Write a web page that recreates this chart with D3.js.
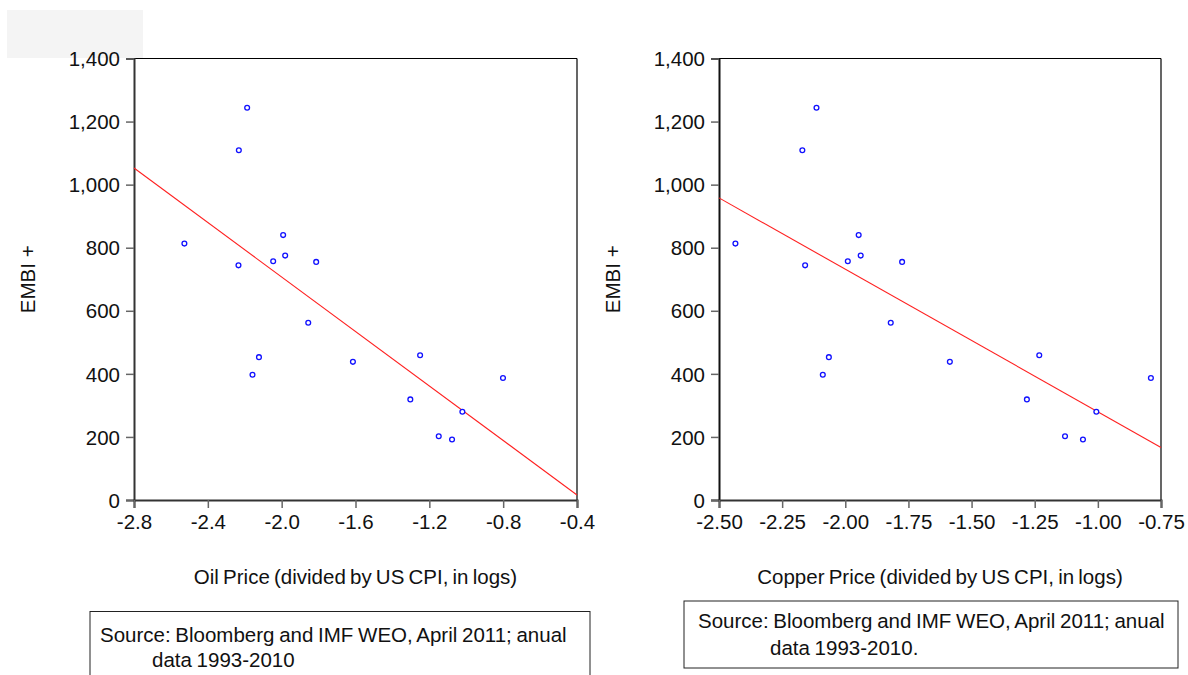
<!DOCTYPE html>
<html>
<head>
<meta charset="utf-8">
<script src="https://cdn.jsdelivr.net/npm/d3@7"></script>
<style>
  html, body { margin: 0; padding: 0; background: #fff; }
  svg { display: block; font-family: "Liberation Sans", Arial, sans-serif; }
</style>
</head>
<body>
<svg id="chart" width="1188" height="675"></svg>
<script>
// EMBI+ spread, annual 1993-2010 (same years on both panels)
const embi = [1244, 1109, 813, 744, 840, 757, 775, 755, 562, 453, 397, 438, 459, 319, 280, 202, 192, 387];

// Real oil price (log of price / US CPI)
const oilPrice = [-2.187, -2.232, -2.527, -2.234, -1.992, -2.046, -1.981, -1.813, -1.856,
                  -2.123, -2.158, -1.614, -1.250, -1.303, -1.021, -1.149, -1.077, -0.801];

// Real copper price (log of price / US CPI)
const copperPrice = [-2.114, -2.170, -2.435, -2.159, -1.947, -1.990, -1.939, -1.775, -1.820,
                     -2.065, -2.089, -1.586, -1.232, -1.281, -1.006, -1.130, -1.059, -0.790];

const yTicks = [0, 200, 400, 600, 800, 1000, 1200, 1400];
const oilTicks = [-2.8, -2.4, -2.0, -1.6, -1.2, -0.8, -0.4];
const copperTicks = [-2.50, -2.25, -2.00, -1.75, -1.50, -1.25, -1.00, -0.75];

const yLabel = "EMBI +";
const oilTitle = "Oil Price (divided by US CPI, in logs)";
const copperTitle = "Copper Price (divided by US CPI, in logs)";
const oilSource = ["Source: Bloomberg and IMF WEO, April 2011; anual", "data 1993-2010"];
const copperSource = ["Source: Bloomberg and IMF WEO, April 2011; anual", "data 1993-2010."];

const FONT = "20.5px";
const svg = d3.select("#chart");

// light grey tab in the top-left corner
svg.append("rect").attr("x", 7).attr("y", 10).attr("width", 136).attr("height", 48).attr("fill", "#f4f4f4");

// ordinary least squares fit
function ols(xs, ys) {
  const mx = d3.mean(xs), my = d3.mean(ys);
  let sxy = 0, sxx = 0;
  xs.forEach((x, i) => { sxy += (x - mx) * (ys[i] - my); sxx += (x - mx) * (x - mx); });
  const b = sxy / sxx;
  return { a: my - b * mx, b };
}

// fixed decimals with a plain hyphen for negatives
const fixed = n => v => v.toFixed(n);

function panel(cfg) {
  const { x0, x1, y0, y1, xs, ys, xTicks, xDomain, xFmt, title, source, box, leftAxisColor } = cfg;
  const g = svg.append("g");
  const x = d3.scaleLinear().domain(xDomain).range([x0, x1]);
  const y = d3.scaleLinear().domain([0, 1400]).range([y1, y0]);

  // frame: top and right borders
  g.append("line").attr("x1", x0).attr("x2", x1).attr("y1", y0).attr("y2", y0).attr("stroke", "#000").attr("stroke-width", 1.2);
  g.append("line").attr("x1", x1).attr("x2", x1).attr("y1", y0).attr("y2", y1).attr("stroke", "#000").attr("stroke-width", 1.2);

  // y axis
  const yAxis = g.append("g").attr("transform", `translate(${x0},0)`)
    .call(d3.axisLeft(y).tickValues(yTicks).tickSize(8).tickPadding(6).tickFormat(d3.format(",")));
  yAxis.attr("font-family", null).attr("font-size", null);
  yAxis.select(".domain").attr("stroke", leftAxisColor).attr("stroke-width", 2);
  yAxis.selectAll(".tick line").attr("stroke", "#666").attr("stroke-width", 1.5);
  yAxis.selectAll(".tick text").attr("fill", "#111").style("font-size", FONT).attr("dy", "0.35em");

  // x axis
  const xAxis = g.append("g").attr("transform", `translate(0,${y1})`)
    .call(d3.axisBottom(x).tickValues(xTicks).tickSize(8).tickPadding(6).tickFormat(xFmt));
  xAxis.attr("font-family", null).attr("font-size", null);
  xAxis.select(".domain").attr("stroke", "#333").attr("stroke-width", 2);
  xAxis.selectAll(".tick line").attr("stroke", "#666").attr("stroke-width", 1.5);
  xAxis.selectAll(".tick text").attr("fill", "#111").style("font-size", FONT);

  // fitted line across the x domain
  const fit = ols(xs, ys);
  g.append("line")
    .attr("x1", x(xDomain[0])).attr("y1", y(fit.a + fit.b * xDomain[0]))
    .attr("x2", x(xDomain[1])).attr("y2", y(fit.a + fit.b * xDomain[1]))
    .attr("stroke", "#ff2020").attr("stroke-width", 1.1);

  // observations
  g.selectAll("circle.pt").data(xs.map((v, i) => [v, ys[i]])).join("circle")
    .attr("class", "pt")
    .attr("cx", d => x(d[0])).attr("cy", d => y(d[1])).attr("r", 2.4)
    .attr("fill", "#fff").attr("stroke", "#1010ff").attr("stroke-width", 1.3);

  // y label
  g.append("text")
    .attr("transform", `translate(${cfg.yLabelX},${(y0 + y1) / 2}) rotate(-90)`)
    .attr("text-anchor", "middle").attr("dy", "0.35em")
    .style("font-size", FONT).attr("fill", "#111").text(yLabel);

  // x title
  g.append("text").attr("x", (x0 + x1) / 2).attr("y", cfg.titleY)
    .attr("text-anchor", "middle").style("font-size", FONT).style("word-spacing", "-1.5px")
    .attr("fill", "#111").text(title);

  // source box
  g.append("rect").attr("x", box.x).attr("y", box.y).attr("width", box.w).attr("height", box.h)
    .attr("fill", "#fff").attr("stroke", "#222").attr("stroke-width", 1);
  g.append("text").attr("x", box.tx1).attr("y", box.ty1).style("font-size", FONT).style("word-spacing", "-1px")
    .attr("fill", "#111").text(source[0]);
  g.append("text").attr("x", box.tx2).attr("y", box.ty2).style("font-size", FONT).style("word-spacing", "-1px")
    .attr("fill", "#111").text(source[1]);
}

panel({
  x0: 134, x1: 577, y0: 58.5, y1: 500,
  xs: oilPrice, ys: embi, xTicks: oilTicks, xDomain: [-2.8, -0.4], xFmt: fixed(1),
  title: oilTitle, titleY: 584, yLabelX: 28, leftAxisColor: "#333",
  source: oilSource,
  box: { x: 90, y: 611.5, w: 500, h: 80, tx1: 100, ty1: 642, tx2: 152, ty2: 667 }
});

panel({
  x0: 719, x1: 1161, y0: 58.5, y1: 500,
  xs: copperPrice, ys: embi, xTicks: copperTicks, xDomain: [-2.5, -0.75], xFmt: fixed(2),
  title: copperTitle, titleY: 584, yLabelX: 613, leftAxisColor: "#111",
  source: copperSource,
  box: { x: 684, y: 601, w: 494, h: 67, tx1: 698, ty1: 628, tx2: 770, ty2: 655 }
});
</script>
</body>
</html>
